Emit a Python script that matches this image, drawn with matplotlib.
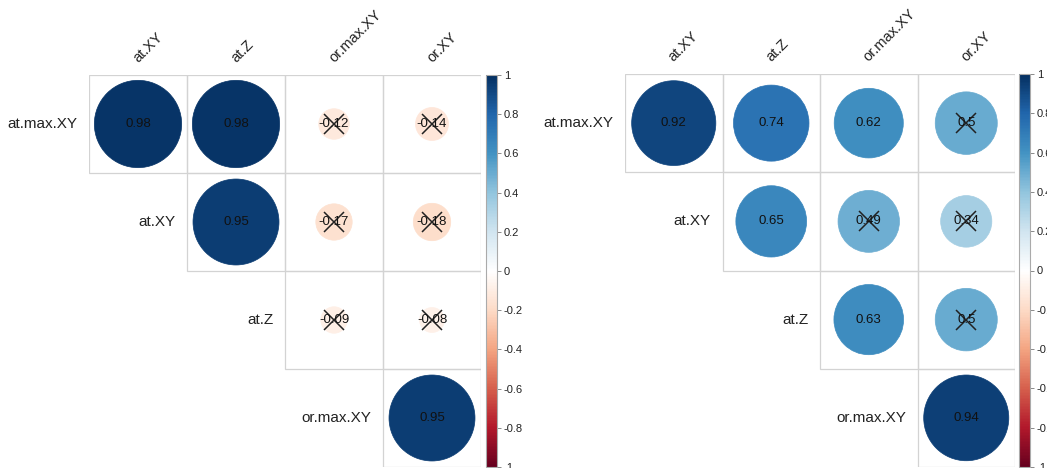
import numpy as np
import matplotlib
matplotlib.use("Agg")
import matplotlib.pyplot as plt
from matplotlib.colors import LinearSegmentedColormap, Normalize
from matplotlib.patches import Circle, Rectangle
from matplotlib.cm import ScalarMappable

plt.rcParams["font.family"] = ["Liberation Sans", "DejaVu Sans"]

# --- datos ---
filas = ["at.max.XY", "at.XY", "at.Z", "or.max.XY"]
columnas = ["at.XY", "at.Z", "or.max.XY", "or.XY"]

nan = np.nan
corr_izq = np.array([
    [0.98, 0.98, -0.12, -0.14],
    [nan, 0.95, -0.17, -0.18],
    [nan, nan, -0.09, -0.08],
    [nan, nan, nan, 0.95],
])
sig_izq = np.array([
    [1, 1, 0, 0],
    [0, 1, 0, 0],
    [0, 0, 0, 0],
    [0, 0, 0, 1],
], dtype=bool)

corr_der = np.array([
    [0.92, 0.74, 0.62, 0.50],
    [nan, 0.65, 0.49, 0.34],
    [nan, nan, 0.63, 0.50],
    [nan, nan, nan, 0.94],
])
sig_der = np.array([
    [1, 1, 1, 0],
    [0, 1, 0, 0],
    [0, 0, 1, 0],
    [0, 0, 0, 1],
], dtype=bool)

ticks_cb = [-1, -0.8, -0.6, -0.4, -0.2, 0, 0.2, 0.4, 0.6, 0.8, 1]

# paleta tipo corrplot COL2('RdBu')
cmap = LinearSegmentedColormap.from_list("rdbu_corrplot", [
    "#67001F", "#B2182B", "#D6604D", "#F4A582", "#FDDBC7", "#FFFFFF",
    "#D1E5F0", "#92C5DE", "#4393C3", "#2166AC", "#053061"])
norm = Normalize(-1, 1)

W, H = 1047, 468
fig = plt.figure(figsize=(W / 100, H / 100), dpi=100)


def px_axes(x0, y0, x1, y1):
    return fig.add_axes([x0 / W, 1 - y1 / H, (x1 - x0) / W, (y1 - y0) / H])


def panel(ax, cax, corr, sig):
    n = len(filas)
    ax.set_xlim(0, n); ax.set_ylim(n, 0)
    ax.axis("off")
    for i in range(n):
        for j in range(i, n):
            ax.add_patch(Rectangle((j, i), 1, 1, fill=False, ec="#D3D3D3", lw=0.9))
    for i in range(n):
        for j in range(i, n):
            r = corr[i, j]
            col = cmap(norm(r))
            ax.add_patch(Circle((j + 0.5, i + 0.5), 0.45 * np.sqrt(abs(r)),
                                fc=col, ec=col, lw=0.5))
            ax.text(j + 0.5, i + 0.5, f"{r:g}", ha="center", va="center",
                    fontsize=9.5, color="#111111")
            if not sig[i, j]:
                ax.plot(j + 0.5, i + 0.5, marker="x", ms=14, mew=1.1,
                        color="#222222")
    for i, lab in enumerate(filas):
        ax.text(i - 0.12, i + 0.5, lab, ha="right", va="center",
                fontsize=11, color="#222222")
    for j, lab in enumerate(columnas):
        ax.text(j + 0.5, -0.12, lab, ha="left", va="baseline", rotation=45,
                rotation_mode="anchor", fontsize=10.5, color="#222222")

    cb = fig.colorbar(ScalarMappable(norm=norm, cmap=cmap), cax=cax)
    cb.set_ticks(ticks_cb)
    cb.set_ticklabels([f"{t:g}" for t in ticks_cb])
    cb.outline.set_edgecolor("#AAAAAA")
    cb.outline.set_linewidth(0.8)
    cax.tick_params(labelsize=8, length=3, width=0.6, color="#777777",
                    labelcolor="#222222", pad=2)


ax1 = px_axes(89, 75, 481, 467)
cax1 = px_axes(486, 75, 497, 467)
panel(ax1, cax1, corr_izq, sig_izq)

ax2 = px_axes(625, 74, 1015, 467)
cax2 = px_axes(1019, 74, 1030, 467)
panel(ax2, cax2, corr_der, sig_der)

fig.savefig("out.png", dpi=100)
